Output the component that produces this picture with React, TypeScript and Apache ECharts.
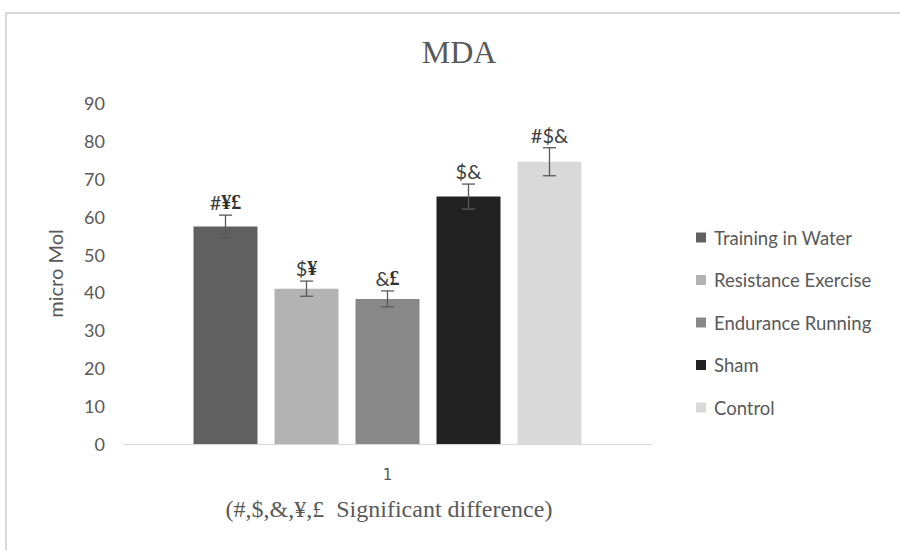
import React, { useEffect, useRef } from "react";
import * as echarts from "echarts";

// Group names, means, standard errors and significance marks
const groups = ["Training in Water", "Resistance Exercise", "Endurance Running", "Sham", "Control"];
const means = [57.4, 41.0, 38.3, 65.3, 74.5];
const errors = [3.0, 2.0, 2.1, 3.3, 3.7];
const marksPlain = ["#", "$", "&", "$&", "#$&"];
const marksBold = ["¥£", "¥", "£", "", ""];
const colors = ["#606060", "#b3b3b3", "#888888", "#222222", "#d9d9d9"];
const categories = ["1"];
const yTicks = { min: 0, max: 90, interval: 10 };

const BAR_W = 64;
const GAP_PX = 17;

export default function App() {
  const ref = useRef<HTMLDivElement>(null);

  useEffect(() => {
    document.body.style.margin = "0";
    const chart = echarts.init(ref.current!, null, { renderer: "svg" });

    const barSeries = groups.map((name, i) => ({
      name,
      type: "bar",
      data: [means[i]],
      barWidth: BAR_W,
      barGap: `${(GAP_PX / BAR_W) * 100}%`,
      itemStyle: { color: colors[i] },
      z: 2,
    }));

    const errorSeries = groups.map((name, i) => ({
      type: "custom",
      name: name + " error",
      z: 5,
      silent: true,
      data: [[0, means[i] - errors[i], means[i] + errors[i]]],
      renderItem: (_params: any, api: any) => {
        const lo = api.coord([api.value(0), api.value(1)]);
        const hi = api.coord([api.value(0), api.value(2)]);
        const x = lo[0] + (i - (groups.length - 1) / 2) * (BAR_W + GAP_PX);
        const cap = 6.5;
        const stroke = { stroke: "#595959", lineWidth: 1.3 };
        const children: any[] = [
          { type: "line", shape: { x1: x, y1: lo[1], x2: x, y2: hi[1] }, style: stroke },
          { type: "line", shape: { x1: x - cap, y1: lo[1], x2: x + cap, y2: lo[1] }, style: stroke },
          { type: "line", shape: { x1: x - cap, y1: hi[1], x2: x + cap, y2: hi[1] }, style: stroke },
          {
            type: "text",
            x,
            y: hi[1] - 3,
            style: {
              text: `{n|${marksPlain[i]}}` + (marksBold[i] ? `{b|${marksBold[i]}}` : ""),
              font: "20px Lato",
              fill: "#404040",
              align: "center",
              verticalAlign: "bottom",
              rich: {
                n: { font: "20px Lato", fill: "#404040" },
                b: { font: "bold 20px 'Liberation Serif'", fill: "#303030" },
              },
            },
          },
        ];
        return { type: "group", children };
      },
    }));

    chart.setOption({
      animation: false,
      backgroundColor: "#ffffff",
      grid: { left: 123, right: 248, top: 103, bottom: 106, containLabel: false },
      legend: {
        data: groups,
        orient: "vertical",
        left: 691,
        top: 221,
        icon: "rect",
        itemWidth: 10,
        itemHeight: 10,
        itemGap: 19.5,
        textStyle: {
          fontFamily: "Lato",
          fontSize: 18.5,
          color: "#595959",
          lineHeight: 23,
          padding: [0, 0, 0, 3],
        },
      },
      xAxis: {
        type: "category",
        data: categories,
        axisLine: { lineStyle: { color: "#d9d9d9", width: 1 } },
        axisTick: { show: false },
        axisLabel: { margin: 23, fontFamily: "DejaVu Sans", fontSize: 15, color: "#595959" },
      },
      yAxis: {
        type: "value",
        min: yTicks.min,
        max: yTicks.max,
        interval: yTicks.interval,
        name: "micro Mol",
        nameLocation: "middle",
        nameRotate: 90,
        nameGap: 58,
        nameTextStyle: { fontFamily: "Lato", fontSize: 20, color: "#595959" },
        axisLine: { show: false },
        axisTick: { show: false },
        splitLine: { show: false },
        axisLabel: { margin: 18, fontFamily: "Lato", fontSize: 18, color: "#595959" },
      },
      graphic: [
        {
          type: "rect",
          z: -10,
          shape: { x: 6, y: 13, width: 1000, height: 1000 },
          style: { fill: "none", stroke: "#d9d9d9", lineWidth: 2 },
        },
        {
          type: "text",
          x: 459,
          y: 52,
          style: {
            text: "MDA",
            fontFamily: "Liberation Serif",
            fontSize: 32,
            fill: "#595959",
            align: "center",
            verticalAlign: "middle",
          },
        },
        {
          type: "text",
          x: 389,
          y: 509,
          style: {
            text: "(#,$,&,¥,£  Significant difference)",
            fontFamily: "Liberation Serif",
            fontSize: 24,
            fill: "#595959",
            align: "center",
            verticalAlign: "middle",
          },
        },
      ],
      series: [...barSeries, ...errorSeries],
    });

    return () => chart.dispose();
  }, []);

  return <div ref={ref} style={{ width: 900, height: 550 }} />;
}
